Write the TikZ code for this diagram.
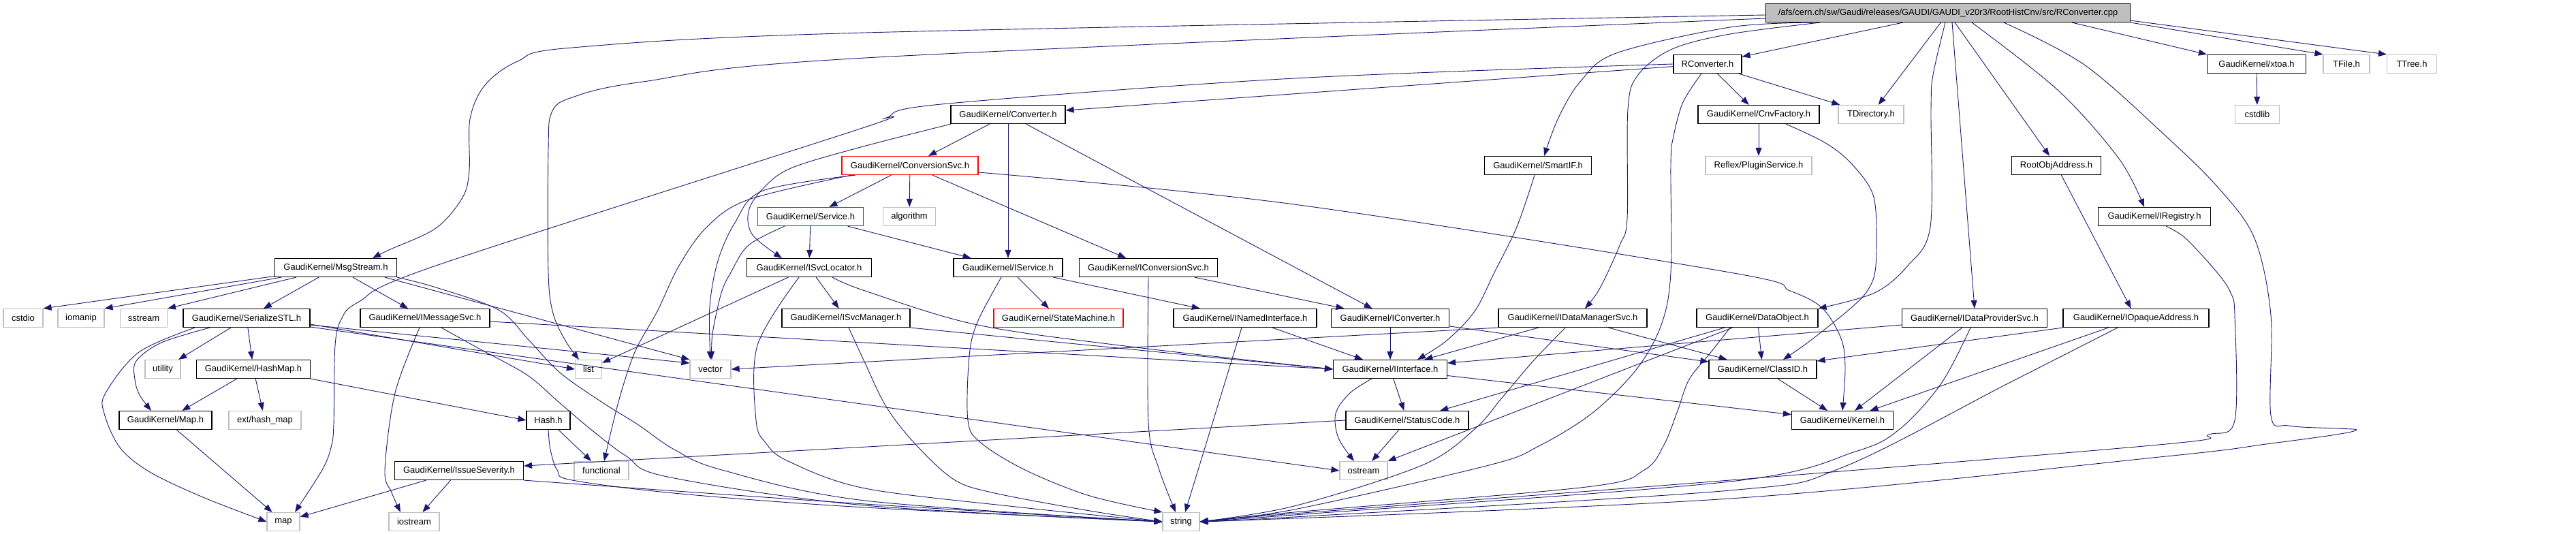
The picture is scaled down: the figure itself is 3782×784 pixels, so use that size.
\documentclass[tikz,border=0pt]{standalone}
\usepackage{fontspec}
\setmainfont{Liberation Sans}
\usepackage{tikz}
\usetikzlibrary{arrows.meta}
\definecolor{EdgeBlue}{HTML}{191970}
\definecolor{SysGray}{HTML}{BFBFBF}
\definecolor{RootGray}{HTML}{BFBFBF}
\definecolor{TruncRed}{HTML}{FF0000}

\begin{document}
\begin{tikzpicture}[
  x=1pt, y=-1pt,
  hbox/.style={rectangle, draw=black, line width=1.2pt, minimum height=27pt,
    inner xsep=3pt, inner ysep=0pt, font=\fontsize{13}{15}\selectfont},
  sysbox/.style={hbox, draw=SysGray},
  redbox/.style={hbox, draw=TruncRed},
  inc/.style={-{Triangle[length=12pt,width=9pt]}, line width=0.9pt, color=EdgeBlue},
  spline/.style={smooth, tension=0.55}
]
\useasboundingbox (0,0) rectangle (3782,784);

% Headers, row by row
\node[hbox, fill=RootGray, minimum width=535pt] (root) at (2860,19)
  {/afs/cern.ch/sw/Gaudi/releases/GAUDI/GAUDI\_v20r3/RootHistCnv/src/RConverter.cpp};

\node[hbox, minimum width=100pt] (rconvh) at (2507,94) {RConverter.h};
\node[hbox, minimum width=145pt] (xtoa) at (3313,94) {GaudiKernel/xtoa.h};
\node[sysbox, minimum width=68pt] (tfile) at (3445,94) {TFile.h};
\node[sysbox, minimum width=73pt] (ttree) at (3541,94) {TTree.h};

\node[hbox, minimum width=168pt] (converter) at (1480,168) {GaudiKernel/Converter.h};
\node[hbox, minimum width=178pt] (cnvfactory) at (2582,168) {GaudiKernel/CnvFactory.h};
\node[sysbox, minimum width=96pt] (tdirectory) at (2747,168) {TDirectory.h};
\node[sysbox, minimum width=65pt] (cstdlib) at (3314,168) {cstdlib};

\node[redbox, minimum width=200pt] (conversionsvc) at (1336,243) {GaudiKernel/ConversionSvc.h};
\node[hbox, minimum width=157pt] (smartif) at (2258,243) {GaudiKernel/SmartIF.h};
\node[sysbox, minimum width=156pt] (pluginsvc) at (2582,243) {Reflex/PluginService.h};
\node[hbox, minimum width=131pt] (rootobjaddr) at (3019,243) {RootObjAddress.h};

\node[redbox, minimum width=155pt] (service) at (1190,318) {GaudiKernel/Service.h};
\node[sysbox, minimum width=77pt] (algorithm) at (1335,318) {algorithm};
\node[hbox, minimum width=165pt] (iregistry) at (3163,318) {GaudiKernel/IRegistry.h};

\node[hbox, minimum width=179pt] (msgstream) at (493,393) {GaudiKernel/MsgStream.h};
\node[hbox, minimum width=183pt] (isvclocator) at (1188,393) {GaudiKernel/ISvcLocator.h};
\node[hbox, minimum width=160pt] (iservice) at (1480,393) {GaudiKernel/IService.h};
\node[hbox, minimum width=203pt] (iconversionsvc) at (1686,393) {GaudiKernel/IConversionSvc.h};

\node[sysbox, minimum width=58pt] (cstdio) at (34,467) {cstdio};
\node[sysbox, minimum width=68pt] (iomanip) at (119,467) {iomanip};
\node[sysbox, minimum width=69pt] (sstream) at (211,467) {sstream};
\node[hbox, minimum width=186pt] (serializestl) at (362,467) {GaudiKernel/SerializeSTL.h};
\node[hbox, minimum width=190pt] (imessagesvc) at (624,467) {GaudiKernel/IMessageSvc.h};
\node[hbox, minimum width=188pt] (isvcmanager) at (1242,467) {GaudiKernel/ISvcManager.h};
\node[redbox, minimum width=190pt] (statemachine) at (1554,467) {GaudiKernel/StateMachine.h};
\node[hbox, minimum width=210pt] (inamedif) at (1828,467) {GaudiKernel/INamedInterface.h};
\node[hbox, minimum width=173pt] (iconverter) at (2041,467) {GaudiKernel/IConverter.h};
\node[hbox, minimum width=218pt] (idatamgrsvc) at (2309,467) {GaudiKernel/IDataManagerSvc.h};
\node[hbox, minimum width=178pt] (dataobject) at (2580,467) {GaudiKernel/DataObject.h};
\node[hbox, minimum width=213pt] (idataprovsvc) at (2899,467) {GaudiKernel/IDataProviderSvc.h};
\node[hbox, minimum width=214pt] (iopaqueaddr) at (3136,467) {GaudiKernel/IOpaqueAddress.h};

\node[sysbox, minimum width=52pt] (utility) at (239,542) {utility};
\node[hbox, minimum width=167pt] (hashmap) at (372,542) {GaudiKernel/HashMap.h};
\node[sysbox, minimum width=39pt] (list) at (864,542) {list};
\node[sysbox, minimum width=60pt] (vector) at (1043,542) {vector};
\node[hbox, minimum width=167pt] (iinterface) at (2041,542) {GaudiKernel/IInterface.h};
\node[hbox, minimum width=158pt] (classid) at (2588,542) {GaudiKernel/ClassID.h};

\node[hbox, minimum width=136pt] (maph) at (243,617) {GaudiKernel/Map.h};
\node[sysbox, minimum width=106pt] (exthashmap) at (389,617) {ext/hash\_map};
\node[hbox, minimum width=64pt] (hash) at (805,617) {Hash.h};
\node[hbox, minimum width=180pt] (statuscode) at (2066,617) {GaudiKernel/StatusCode.h};
\node[hbox, minimum width=149pt] (kernel) at (2705,617) {GaudiKernel/Kernel.h};

\node[hbox, minimum width=189pt] (issueseverity) at (674,691) {GaudiKernel/IssueSeverity.h};
\node[sysbox, minimum width=80pt] (functional) at (883,691) {functional};
\node[sysbox, minimum width=70pt] (ostream) at (2002,691) {ostream};

\node[sysbox, minimum width=48pt] (map) at (416,766) {map};
\node[sysbox, minimum width=74pt] (iostream) at (608,766) {iostream};
\node[sysbox, minimum width=54pt] (string) at (1734,766) {string};

% RConverter.cpp
\draw[inc] (root) -- (rconvh);
\draw[inc] plot[spline] coordinates {([yshift=-3pt]root.west) (1270,48) (840,70) (760,90) (712,125)
  (690,175) (689,250) (679,290) (640,335) (571,367) ([xshift=54pt]msgstream.north)};
\draw[inc] plot[spline] coordinates {([yshift=-8pt]root.west) (1270,85) (944,120) (840,143) (810,165)
  (805,220) (805,400) (812,460) (830,500) ([xshift=-14pt]list.north)};
\draw[inc] plot[spline] coordinates {([xshift=-198pt]root.south) (2540,40) (2373,78) (2320,120)
  (2288,173) ([xshift=9pt]smartif.north)};
\draw[inc] plot[spline] coordinates {([xshift=-188pt]root.south) (2540,50) (2455,72) (2405,110)
  (2390,160) (2389,320) (2378,360) (2349,423) ([xshift=18pt]idatamgrsvc.north)};
\draw[inc] (root) -- (tdirectory);
\draw[inc] plot[spline] coordinates {([xshift=-4pt]root.south) (2838,110) (2835,160) (2834,333)
  (2801,390) (2752,430) (dataobject.north east)};
\draw[inc] ([xshift=6pt]root.south) -- (idataprovsvc.north);
\draw[inc] (root) -- (rootobjaddr);
\draw[inc] plot[spline] coordinates {([xshift=35pt]root.south) (3022,133) (3111,233)
  ([xshift=-15pt]iregistry.north)};
\draw[inc] plot[spline] coordinates {([xshift=82pt]root.south) (3060,95) (3180,200) (3258,277)
  (3310,350) (3334,463) (3334,610) (3360,625) (3430,629) (3460,631) (3430,638) (3327,652)
  (3180,670) (2540,732) (string.east)};
\draw[inc] ([xshift=182pt]root.south) -- (xtoa.north west);
\draw[inc] (root.south east) -- (tfile.north west);
\draw[inc] ([yshift=3pt]root.south east) -- (ttree.north west);

% RConverter.h
\draw[inc] (rconvh) -- (converter);
\draw[inc] plot[spline] coordinates {(rconvh.west) (1900,115) (1382,153) (1301,173) (1260,190)
  (640,390) (527,443) (502,467) (492,507) (490,623) (486,657) (473,690) ([xshift=17pt]map.north)};
\draw[inc] (rconvh) -- (cnvfactory);
\draw[inc] (rconvh) -- (tdirectory);
\draw[inc] plot[spline] coordinates {([xshift=-9pt]rconvh.south) (2471,150) (2457,200) (2453,240)
  (2453,400) (2439,477) (2402,543) (2337,607) (2259,655) (2186,683) (1900,748) (string.east)};

\draw[inc] (xtoa) -- (cstdlib);

% CnvFactory.h
\draw[inc] (cnvfactory) -- (pluginsvc);
\draw[inc] plot[spline] coordinates {([xshift=40pt]cnvfactory.south) (2675,207) (2711,233)
  (2744,273) (2754,310) (2754,390) (2744,423) (2720,450) (2658,500) ([xshift=30pt]classid.north)};

% Converter.h
\draw[inc] (converter) -- (conversionsvc);
\draw[inc] (converter) -- (iservice);
\draw[inc] (converter) -- (iconverter);
\draw[inc] plot[spline] coordinates {([xshift=-84pt]converter.south) (1260,217) (1161,247)
  (1120,277) (1099,310) (1105,345) ([xshift=-40pt]isvclocator.north)};

% ConversionSvc.h
\draw[inc] (conversionsvc) -- (service);
\draw[inc] (conversionsvc) -- (algorithm);
\draw[inc] (conversionsvc) -- (iconversionsvc);
\draw[inc] plot[spline] coordinates {([yshift=-10pt]conversionsvc.east) (1900,300) (2540,400)
  (2628,427) (2675,452) (2703,497) (2709,540) (kernel.north)};
\draw[inc] plot[spline] coordinates {([xshift=-80pt]conversionsvc.south) (1120,280) (1079,327)
  (1054,383) (1042,450) (vector.north)};
\draw[inc] plot[spline] coordinates {([xshift=-86pt]conversionsvc.south) (1099,293) (1038,333)
  (997,390) (965,457) (932,517) (908,590) ([xshift=4pt]functional.north)};

% Service.h
\draw[inc] (service) -- (isvclocator);
\draw[inc] plot[spline] coordinates {([xshift=-38pt]service.south) (1099,360) (1073,400)
  (1059,430) (1046,490) ([xshift=2pt]vector.north)};
\draw[inc] (service) -- (iservice);

% ISvcLocator.h
\draw[inc] (isvclocator) -- (list);
\draw[inc] (isvclocator) -- (isvcmanager);
\draw[inc] plot[spline] coordinates {([xshift=34pt]isvclocator.south) (1270,427) (1435,477)
  (1668,510) (iinterface.west)};
\draw[inc] plot[spline] coordinates {([xshift=-15pt]isvclocator.south) (1112,507) (1110,617)
  (1124,650) (1157,677) (1270,717) (1500,745) (string.west)};

% ISvcManager.h
\draw[inc] (isvcmanager.south east) -- (iinterface.west);
\draw[inc] plot[spline] coordinates {([xshift=4pt]isvcmanager.south) (1270,533) (1301,597)
  (1342,650) (1399,703) (1456,723) (1600,750) (string.west)};

% IService.h
\draw[inc] (iservice) -- (statemachine);
\draw[inc] (iservice) -- (inamedif);
\draw[inc] plot[spline] coordinates {([xshift=-10pt]iservice.south) (1435,473) (1423,523)
  (1421,617) (1440,650) (1505,690) (1600,728) (string.north west)};

% IConversionSvc.h
\draw[inc] (iconversionsvc) -- (iconverter);
\draw[inc] plot[spline] coordinates {(iconversionsvc.south) (1686,620) (1701,687)
  ([xshift=-8pt]string.north)};

% INamedInterface.h
\draw[inc] (inamedif) -- (iinterface);
\draw[inc] ([xshift=-5pt]inamedif.south) -- ([xshift=6pt]string.north);

% SmartIF.h
\draw[inc] plot[spline] coordinates {([xshift=-5pt]smartif.south) (2227,333) (2194,400)
  (2165,457) (2124,500) ([xshift=40pt]iinterface.north)};

% IConverter.h
\draw[inc] (iconverter) -- (iinterface);
\draw[inc] (iconverter) -- (classid);

% IDataManagerSvc.h
\draw[inc] (idatamgrsvc) -- (iinterface);
\draw[inc] (idatamgrsvc) -- (classid);
\draw[inc] (idatamgrsvc.south west) -- (vector.east);
\draw[inc] plot[spline] coordinates {([xshift=-11pt]idatamgrsvc.south) (2251,530) (2206,583)
  (2165,630) (2088,683) (1900,743) (string.east)};

% DataObject.h
\draw[inc] (dataobject) -- (classid);
\draw[inc] (dataobject) -- (statuscode);
\draw[inc] (dataobject) -- (ostream.north east);
\draw[inc] plot[spline] coordinates {([xshift=-40pt]dataobject.south) (2512,517) (2480,557)
  (2463,603) (2443,653) (2414,690) (2329,715) (1900,752) (string.east)};

% IDataProviderSvc.h
\draw[inc] ([yshift=-10pt]idataprovsvc.west) -- ([yshift=9pt]iinterface.east);
\draw[inc] (idataprovsvc) -- (kernel);
\draw[inc] plot[spline] coordinates {([xshift=-6pt]idataprovsvc.south) (2850,563) (2789,630)
  (2724,663) (2540,707) (1900,756) (string.east)};

% IOpaqueAddress.h
\draw[inc] (iopaqueaddr.south west) -- ([yshift=12pt]classid.east);
\draw[inc] (iopaqueaddr) -- (kernel);
\draw[inc] plot[spline] coordinates {([xshift=-27pt]iopaqueaddr.south) (2948,563) (2703,687)
  (2540,720) (1900,759) (string.east)};

\draw[inc] (rootobjaddr) -- (iopaqueaddr);

% IRegistry.h
\draw[inc] plot[spline] coordinates {([xshift=17pt]iregistry.south) (3209,350) (3255,400)
  (3275,430) (3281,463) (3281,617) (3243,638) (3180,652) (2540,705) (1900,754) (string.east)};

% MsgStream.h
\draw[inc] (msgstream) -- (cstdio.north east);
\draw[inc] (msgstream) -- (iomanip.north east);
\draw[inc] (msgstream) -- (sstream.north east);
\draw[inc] (msgstream) -- (serializestl);
\draw[inc] (msgstream) -- (imessagesvc);
\draw[inc] ([xshift=72pt]msgstream.south) -- (vector.north west);
\draw[inc] plot[spline] coordinates {(msgstream.south east) (640,422) (732,455) (777,500)
  (822,547) (883,590) (936,623) (990,660) (1060,690) (1270,735) (string.west)};

% SerializeSTL.h
\draw[inc] (serializestl) -- (utility);
\draw[inc] (serializestl) -- (hashmap);
\draw[inc] plot[spline] coordinates {([xshift=-54pt]serializestl.south) (237,503) (200,530)
  (198,557) (205,580) ([xshift=-21pt]maph.north)};
\draw[inc] plot[spline] coordinates {([xshift=-76pt]serializestl.south) (204,517) (155,577)
  (153,607) (176,657) (220,693) (298,730) (map.west)};
\draw[inc] ([yshift=-9pt]serializestl.east) -- (list.west);
\draw[inc] ([yshift=-10pt]serializestl.east) -- ([yshift=9pt]vector.west);
\draw[inc] ([yshift=-13pt]serializestl.east) -- (ostream.west);

% IMessageSvc.h
\draw[inc] ([yshift=-5pt]imessagesvc.east) -- (iinterface.west);
\draw[inc] plot[spline] coordinates {([xshift=24pt]imessagesvc.south) (700,510) (773,550)
  (820,590) (867,630) (920,670) (980,700) (1270,742) (string.west)};
\draw[inc] plot[spline] coordinates {([xshift=-8pt]imessagesvc.south) (580,577) (565,690)
  (575,723) ([xshift=-20pt]iostream.north)};

% HashMap.h, Map.h, Hash.h
\draw[inc] (hashmap) -- (maph);
\draw[inc] (hashmap) -- (exthashmap);
\draw[inc] (hashmap.south east) -- (hash.west);
\draw[inc] (maph) -- (map);
\draw[inc] (hash) -- (functional);
\draw[inc] plot[spline] coordinates {(hash.south) (808,660) (818,690) (840,705) (1000,725)
  (1270,745) (string.west)};

% IssueSeverity.h
\draw[inc] (issueseverity) -- (map);
\draw[inc] (issueseverity) -- (iostream);
\draw[inc] plot[spline] coordinates {(issueseverity.south east) (1270,740) (string.west)};

% StatusCode.h
\draw[inc] (statuscode.west) -- ([yshift=7pt]issueseverity.east);
\draw[inc] (statuscode) -- (ostream);

% IInterface.h, ClassID.h
\draw[inc] (iinterface) -- (statuscode);
\draw[inc] plot[spline] coordinates {([xshift=-27pt]iinterface.south) (1982,577) (1961,607)
  (1965,643) ([xshift=-14pt]ostream.north)};
\draw[inc] (iinterface) -- (kernel);
\draw[inc] (classid) -- (kernel);

\end{tikzpicture}
\end{document}
